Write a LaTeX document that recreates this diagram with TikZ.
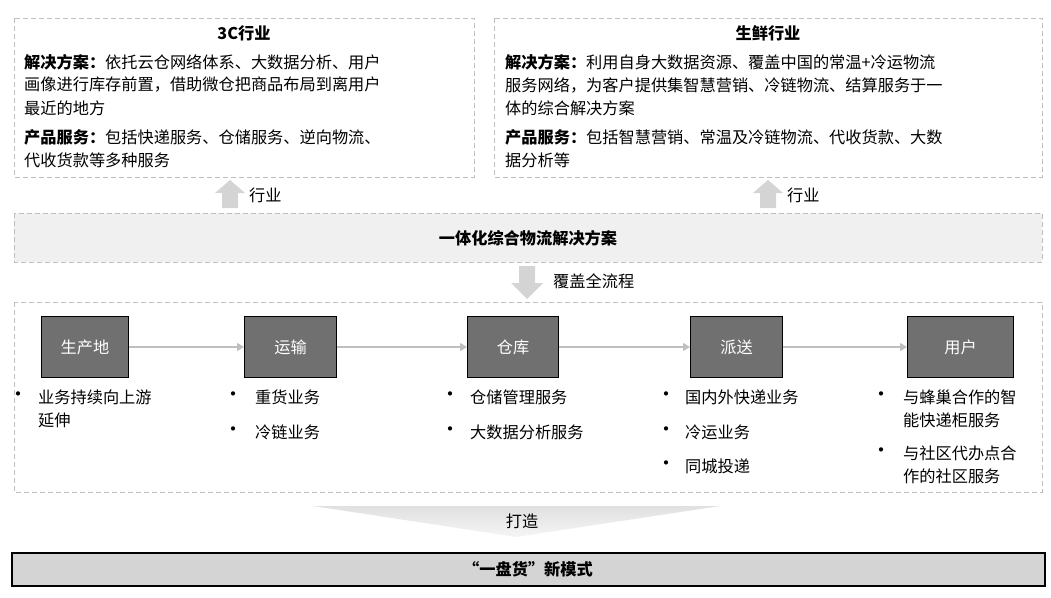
\documentclass[tikz,border=0pt]{standalone}
\usepackage{fontspec}
\setmainfont{Noto Sans CJK SC}
\usetikzlibrary{arrows.meta}
\begin{document}
\begin{tikzpicture}[x=1pt,y=-1pt,font=\fontsize{16.2}{19}\selectfont,
  dbox/.style={draw=black!25,line width=1pt,dash pattern=on 5pt off 3pt},
  stage/.style={draw=black,fill=black!56,text=white,line width=1pt,minimum height=61pt,anchor=north west,inner sep=0pt},
  flow/.style={draw=black!25,line width=1.2pt,-{Triangle[length=7pt,width=8pt]}},
  fat/.style={fill=black!17,draw=none},
  t/.style={anchor=west,inner sep=0pt},
  bul/.style={anchor=center,inner sep=0pt,font=\fontsize{20}{20}\selectfont}]
\useasboundingbox (0,0) rectangle (1051,597);
% top boxes
\draw[dbox,fill=white] (14,18) rectangle (474,177);
\draw[dbox,fill=white] (494,18) rectangle (1042,177);
\node[font=\fontsize{16.2}{19}\selectfont\bfseries] (t1) at (244,33) {3C行业};
\node[font=\fontsize{16.2}{19}\selectfont\bfseries] (t2) at (768,33) {生鲜行业};
\node[t] (a1) at (24,62) {\textbf{解决方案：}依托云仓网络体系、大数据分析、用户};
\node[t] (a2) at (24,85) {画像进行库存前置，借助微仓把商品布局到离用户};
\node[t] (a3) at (24,108) {最近的地方};
\node[t] (a4) at (24,137) {\textbf{产品服务：}包括快递服务、仓储服务、逆向物流、};
\node[t] (a5) at (24,160) {代收货款等多种服务};
\node[t] (b1) at (505,62) {\textbf{解决方案：}利用自身大数据资源、覆盖中国的常温+冷运物流};
\node[t] (b2) at (505,85) {服务网络，为客户提供集智慧营销、冷链物流、结算服务于一};
\node[t] (b3) at (505,108) {体的综合解决方案};
\node[t] (b4) at (505,137) {\textbf{产品服务：}包括智慧营销、常温及冷链物流、代收货款、大数};
\node[t] (b5) at (505,160) {据分析等};
% up arrows
\fill[fat] (222,208) -- (222,193) -- (215,193) -- (230,180) -- (245,193) -- (238,193) -- (238,208) -- cycle;
\node[t] (h1) at (249,195) {行业};
\fill[fat] (760,208) -- (760,193) -- (753,193) -- (768,180) -- (783,193) -- (776,193) -- (776,208) -- cycle;
\node[t] (h2) at (787,195) {行业};
% band
\draw[dbox,fill=black!6] (14,213) rectangle (1042,262);
\node[font=\fontsize{16.2}{19}\selectfont\bfseries] (band) at (528,238) {一体化综合物流解决方案};
% down arrow
\fill[fat] (519,266) -- (535,266) -- (535,283) -- (543,283) -- (527,299) -- (511,283) -- (519,283) -- cycle;
\node[t] (cov) at (553,281) {覆盖全流程};
% process box
\draw[dbox,fill=white] (14,302) rectangle (1042,492);
\node[stage,minimum width=87pt] (s1) at (41,316) {生产地};
\node[stage,minimum width=92pt] (s2) at (244,316) {运输};
\node[stage,minimum width=91pt] (s3) at (467,316) {仓库};
\node[stage,minimum width=92pt] (s4) at (690,316) {派送};
\node[stage,minimum width=106pt] (s5) at (907,316) {用户};
\draw[flow] (s1) -- (s2);
\draw[flow] (s2) -- (s3);
\draw[flow] (s3) -- (s4);
\draw[flow] (s4) -- (s5);
% bullets
\node[bul] (p1) at (19,397) {•}; \node[t] (q1) at (38,397) {业务持续向上游};
\node[t] (q1b) at (38,420) {延伸};
\node[bul] (p2) at (233,397) {•}; \node[t] (q2) at (255,397) {重货业务};
\node[bul] (p3) at (233,432) {•}; \node[t] (q3) at (255,432) {冷链业务};
\node[bul] (p4) at (450,397) {•}; \node[t] (q4) at (470,397) {仓储管理服务};
\node[bul] (p5) at (450,432) {•}; \node[t] (q5) at (470,432) {大数据分析服务};
\node[bul] (p6) at (666,397) {•}; \node[t] (q6) at (685,397) {国内外快递业务};
\node[bul] (p7) at (666,432) {•}; \node[t] (q7) at (685,432) {冷运业务};
\node[bul] (p8) at (666,466) {•}; \node[t] (q8) at (685,466) {同城投递};
\node[bul] (p9) at (881,397) {•}; \node[t] (q9) at (903,397) {与蜂巢合作的智};
\node[t] (q9b) at (903,420) {能快递柜服务};
\node[bul] (p10) at (881,453) {•}; \node[t] (q10) at (903,453) {与社区代办点合};
\node[t] (q10b) at (903,476) {作的社区服务};
% triangle
\shade[top color=black!12,bottom color=black!4] (313,506) -- (720,506) -- (516,537) -- cycle;
\node (dz) at (522,521) {打造};
% bottom box
\draw[fill=black!17,draw=black,line width=1.5pt] (12,553) rectangle (1045,586);
\node[font=\fontsize{16.2}{19}\selectfont\bfseries] (nm) at (528,569) {“一盘货”新模式};
\end{tikzpicture}
\end{document}
